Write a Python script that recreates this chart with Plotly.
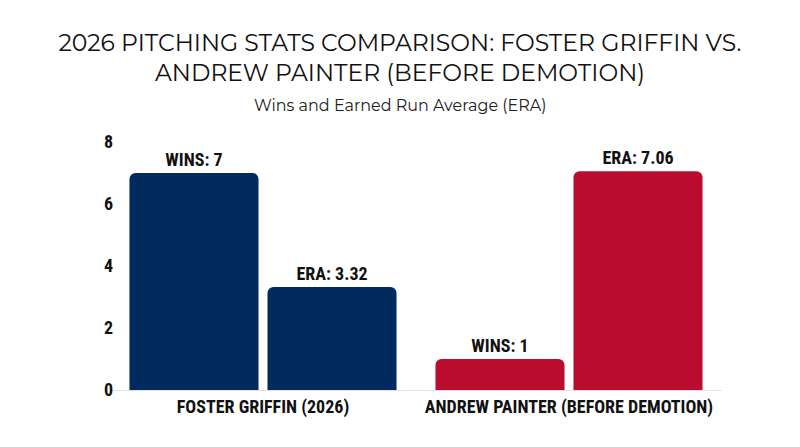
import plotly.graph_objects as go

players = ["FOSTER GRIFFIN (2026)", "ANDREW PAINTER (BEFORE DEMOTION)"]
wins = [7, 1]
era = [3.32, 7.06]
y_ticks = [0, 2, 4, 6, 8]

NAVY = "#012A5E"
RED = "#BA0C2F"
player_colors = [NAVY, RED]

COND = "Roboto Condensed, Liberation Sans Narrow, DejaVu Sans Condensed, Arial Narrow, sans-serif"
TITLE_FONT = "Montserrat, Inter, Lato, sans-serif"

W, H = 800, 447
ML, MR, MT, MB = 110, 78, 142, 57

fig = go.Figure()
fig.add_trace(go.Bar(
    x=players, y=wins, name="Wins",
    marker=dict(color=player_colors, line=dict(width=0)),
    texttemplate="WINS: %{y}", textposition="outside",
    textfont=dict(family=COND, size=18, color="#111111", weight="bold"),
    cliponaxis=False,
))
fig.add_trace(go.Bar(
    x=players, y=era, name="ERA",
    marker=dict(color=player_colors, line=dict(width=0)),
    texttemplate="ERA: %{y:.2f}", textposition="outside",
    textfont=dict(family=COND, size=18, color="#111111", weight="bold"),
    cliponaxis=False,
))

fig.update_layout(
    width=W, height=H,
    paper_bgcolor="white", plot_bgcolor="white",
    barmode="group", bargap=0.098, bargroupgap=0.065,
    barcornerradius=6,
    showlegend=False,
    margin=dict(l=ML, r=MR, t=MT, b=MB),
    title=dict(
        text="2026 PITCHING STATS COMPARISON: FOSTER GRIFFIN VS.<br>ANDREW PAINTER (BEFORE DEMOTION)",
        x=0.5, xanchor="center", y=1 - 50.5 / H, yanchor="middle",
        font=dict(family=TITLE_FONT, size=23.5, color="#111111"),
    ),
    annotations=[dict(
        text="Wins and Earned Run Average (ERA)",
        xref="paper", yref="paper",
        x=(W / 2 - ML) / (W - ML - MR), y=1 + (MT - 105.5) / (H - MT - MB),
        xanchor="center", yanchor="middle", showarrow=False,
        font=dict(family=TITLE_FONT, size=16, color="#222222"),
    )],
    xaxis=dict(
        showgrid=False, showline=True, linecolor="#e2e2e2", linewidth=1,
        ticks="", tickfont=dict(family=COND, size=18, color="#111111", weight="bold"),
    ),
    yaxis=dict(
        range=[0, 8], tickvals=y_ticks, showgrid=False, zeroline=False, showline=False,
        ticks="", ticklabelstandoff=-4,
        tickfont=dict(family=COND, size=18, color="#111111", weight="bold"),
    ),
)

fig.write_html("out.html", config={"displayModeBar": False},
               post_script="document.body.style.margin='0px';")
